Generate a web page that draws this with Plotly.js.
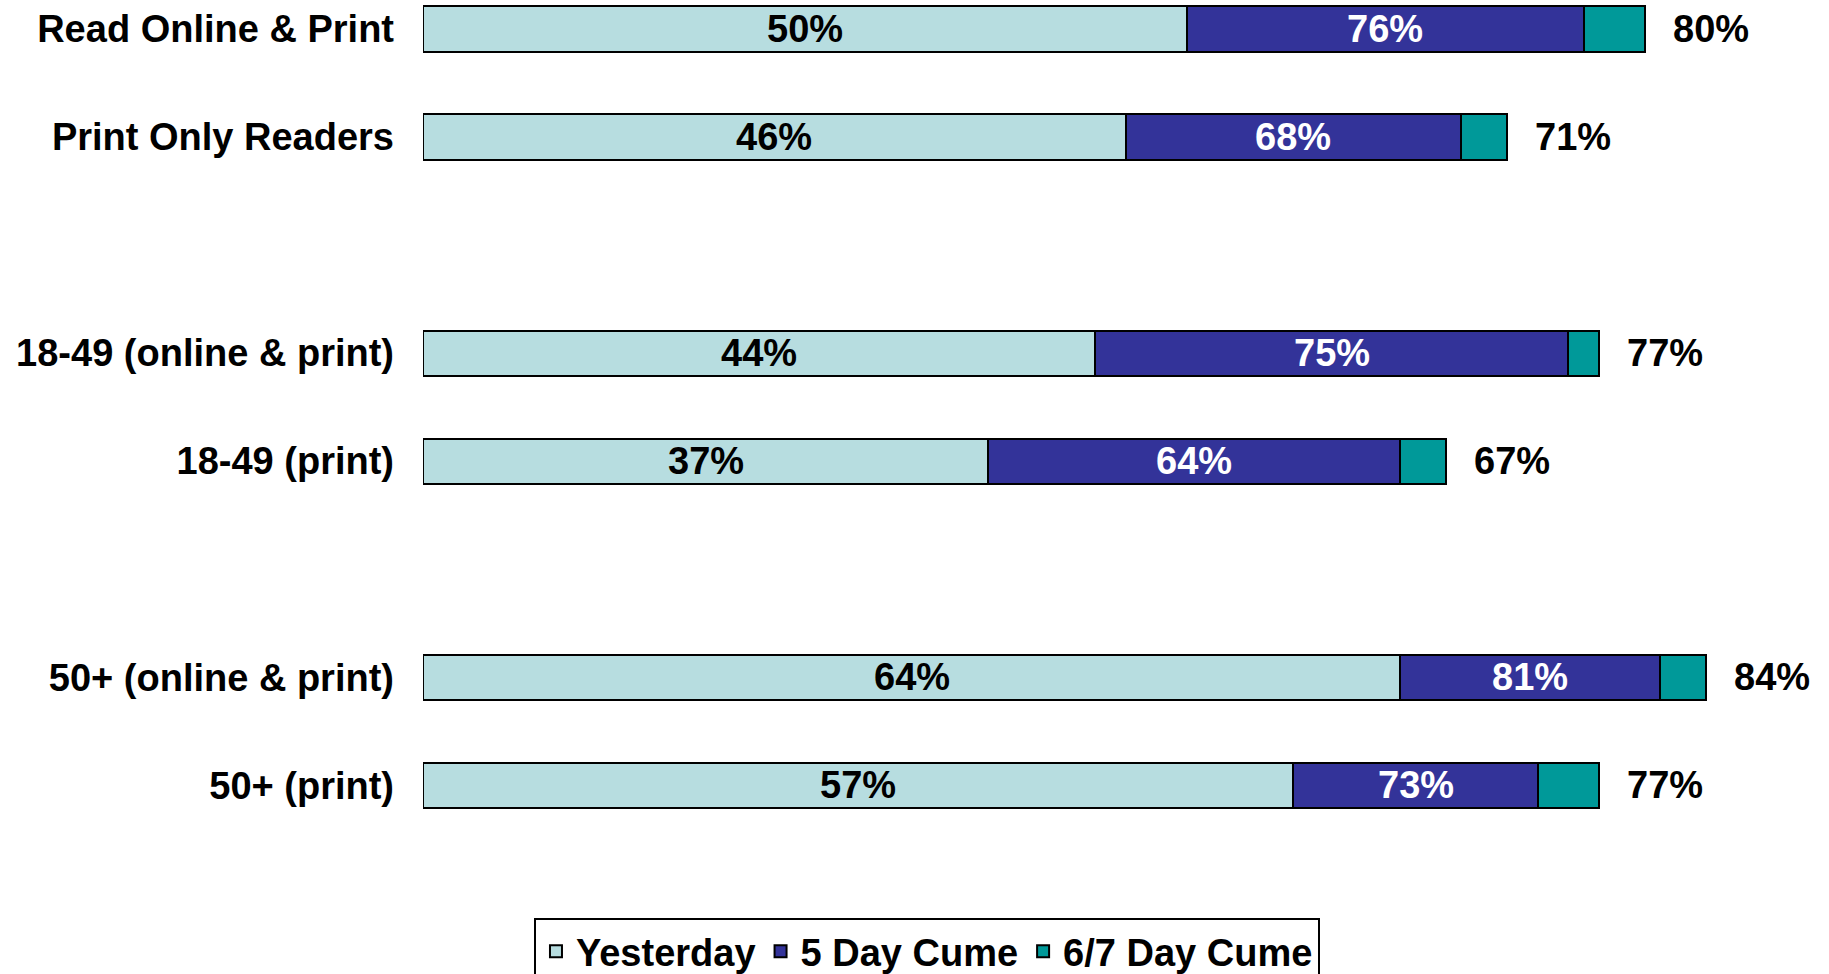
<!DOCTYPE html>
<html>
<head>
<meta charset="utf-8">
<script src="https://cdn.plot.ly/plotly-3.0.1.min.js"></script>
<style>
  html, body { margin: 0; padding: 0; background: #ffffff; }
  #chart { width: 1829px; height: 974px; }
</style>
</head>
<body>
<div id="chart"></div>
<script>
// ---- data ----
const categories = [
  'Read Online & Print',
  'Print Only Readers',
  '18-49 (online & print)',
  '18-49 (print)',
  '50+ (online & print)',
  '50+ (print)'
];
const yesterday   = [50, 46, 44, 37, 64, 57];
const fiveDayCume = [76, 68, 75, 64, 81, 73];
const sixSevenDayCume = [80, 71, 77, 67, 84, 77];
const seriesNames = ['Yesterday', '5 Day Cume', '6/7 Day Cume'];

// ---- style ----
const FONT = '"Liberation Sans", Arial, Helvetica, sans-serif';
const colors = ['#B7DDE0', '#333399', '#009999'];
const line = { color: '#000000', width: 2 };
const barWidth = 0.42;

// spacer categories produce the gaps between groups
const categoryOrder = [categories[0], categories[1], ' ', categories[2], categories[3], '  ', categories[4], categories[5]];

const inc5 = fiveDayCume.map((v, i) => v - yesterday[i]);
const inc67 = sixSevenDayCume.map((v, i) => v - fiveDayCume[i]);

const traces = [
  { type: 'bar', orientation: 'h', name: seriesNames[0], y: categories, x: yesterday,
    marker: { color: colors[0], line: line }, width: barWidth },
  { type: 'bar', orientation: 'h', name: seriesNames[1], y: categories, x: inc5,
    marker: { color: colors[1], line: line }, width: barWidth },
  { type: 'bar', orientation: 'h', name: seriesNames[2], y: categories, x: inc67,
    marker: { color: colors[2], line: line }, width: barWidth }
];

const annotations = [];
categories.forEach((c, i) => {
  annotations.push({ x: yesterday[i] / 2, y: c, xref: 'x', yref: 'y', text: yesterday[i] + '%',
    showarrow: false, font: { family: FONT, size: 38, weight: 'bold', color: '#000000' } });
  annotations.push({ x: (yesterday[i] + fiveDayCume[i]) / 2, y: c, xref: 'x', yref: 'y', text: fiveDayCume[i] + '%',
    showarrow: false, font: { family: FONT, size: 38, weight: 'bold', color: '#ffffff' } });
  annotations.push({ x: sixSevenDayCume[i], y: c, xref: 'x', yref: 'y', text: sixSevenDayCume[i] + '%',
    showarrow: false, xanchor: 'left', xshift: 26,
    font: { family: FONT, size: 38, weight: 'bold', color: '#000000' } });
});

const layout = {
  width: 1829, height: 974,
  paper_bgcolor: '#ffffff', plot_bgcolor: '#ffffff',
  margin: { l: 423, r: 1, t: 0, b: 124, pad: 0, autoexpand: false },
  barmode: 'stack',
  bargap: 0,
  hovermode: false,
  font: { family: FONT, size: 38, weight: 'bold', color: '#000000' },
  xaxis: { range: [0, 92], visible: false, fixedrange: true },
  yaxis: {
    type: 'category', categoryorder: 'array', categoryarray: categoryOrder,
    range: [7.6, -0.27],
    showgrid: false, zeroline: false, showline: false, ticks: '',
    ticklabelstandoff: 28,
    tickfont: { family: FONT, size: 38, weight: 'bold', color: '#000000' },
    fixedrange: true
  },
  showlegend: true,
  legend: {
    orientation: 'h', x: 0.3587, xanchor: 'center', y: -0.08, yanchor: 'top',
    bgcolor: '#ffffff', bordercolor: '#000000', borderwidth: 2,
    font: { family: FONT, size: 38, weight: 'bold', color: '#000000' },
    traceorder: 'normal'
  },
  annotations: annotations
};

Plotly.newPlot('chart', traces, layout, { displayModeBar: false, staticPlot: true });
</script>
</body>
</html>
